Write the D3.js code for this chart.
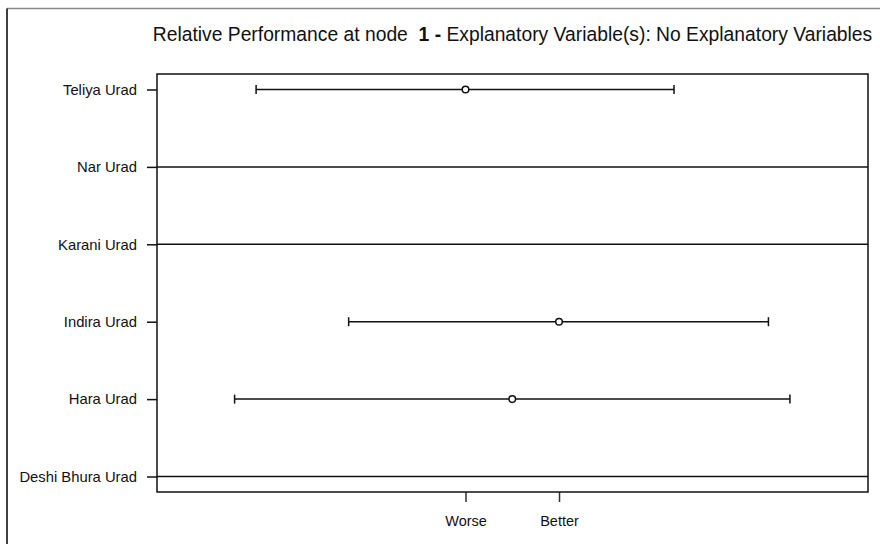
<!DOCTYPE html>
<html>
<head>
<meta charset="utf-8">
<script src="https://cdn.jsdelivr.net/npm/d3@7"></script>
<style>
  body { margin: 0; background: #fff; }
  svg { display: block; font-family: "Liberation Sans", Arial, sans-serif; }
</style>
</head>
<body>
<script>
// varieties, top to bottom
const categories = ["Teliya Urad", "Nar Urad", "Karani Urad", "Indira Urad", "Hara Urad", "Deshi Bhura Urad"];
// estimates and interval ends (null / Infinity = undetermined, line spans whole plot)
const estimate = [0, null, null, 1, 0.5, null];
const lower = [-2.24, -Infinity, -Infinity, -1.25, -2.47, -Infinity];
const upper = [2.23, Infinity, Infinity, 3.24, 3.47, Infinity];
const xTickValues = [0, 1];
const xTickLabels = ["Worse", "Better"];

const width = 880, height = 544;
const margin = {top: 74, right: 12, bottom: 52, left: 157};

const data = categories.map((c, i) => ({name: c, est: estimate[i], lo: lower[i], hi: upper[i]}));

const svg = d3.select("body").append("svg")
    .attr("width", width)
    .attr("height", height);

// outer frame
svg.append("line").attr("x1", 7).attr("x2", width).attr("y1", 8.5).attr("y2", 8.5)
    .attr("stroke", "#888").attr("stroke-width", 1.5);
svg.append("line").attr("x1", 7).attr("x2", 7).attr("y1", 8.5).attr("y2", height)
    .attr("stroke", "#000").attr("stroke-width", 1.5);

const x = d3.scaleLinear()
    .domain([-3.30, 4.305])
    .range([margin.left, width - margin.right])
    .clamp(true);

const y = d3.scalePoint()
    .domain(categories)
    .range([margin.top, height - margin.bottom])
    .padding(0.2);

// y axis
svg.append("g")
    .attr("transform", `translate(${margin.left},0)`)
    .call(d3.axisLeft(y).tickSize(10).tickPadding(10))
    .call(g => g.select(".domain").remove())
    .call(g => g.selectAll("line").attr("stroke", "#111").attr("stroke-width", 1.5))
    .call(g => g.selectAll("text").attr("font-size", 14.8).attr("fill", "#111")
        .attr("font-family", "Liberation Sans, Arial, sans-serif"));

// x axis
svg.append("g")
    .attr("transform", `translate(0,${height - margin.bottom})`)
    .call(d3.axisBottom(x).tickValues(xTickValues).tickFormat((d, i) => xTickLabels[i])
        .tickSize(10).tickPadding(14))
    .call(g => g.select(".domain").remove())
    .call(g => g.selectAll("line").attr("stroke", "#333").attr("stroke-width", 1.5))
    .call(g => g.selectAll("text").attr("font-size", 14.5).attr("fill", "#111")
        .attr("font-family", "Liberation Sans, Arial, sans-serif"));

// intervals
svg.append("g")
    .attr("stroke", "#111")
    .attr("stroke-width", 1.5)
  .selectAll("line")
  .data(data)
  .join("line")
    .attr("x1", d => x(d.lo))
    .attr("x2", d => x(d.hi))
    .attr("y1", d => y(d.name))
    .attr("y2", d => y(d.name));

// caps on finite ends
const caps = data.filter(d => isFinite(d.lo)).flatMap(d => [{v: d.lo, name: d.name}, {v: d.hi, name: d.name}]);
svg.append("g")
    .attr("stroke", "#111")
    .attr("stroke-width", 1.5)
  .selectAll("line")
  .data(caps)
  .join("line")
    .attr("x1", d => x(d.v))
    .attr("x2", d => x(d.v))
    .attr("y1", d => y(d.name) - 4.5)
    .attr("y2", d => y(d.name) + 4.5);

// points
svg.append("g")
    .attr("fill", "white")
    .attr("stroke", "#111")
    .attr("stroke-width", 1.5)
  .selectAll("circle")
  .data(data.filter(d => d.est !== null))
  .join("circle")
    .attr("cx", d => x(d.est))
    .attr("cy", d => y(d.name))
    .attr("r", 3.3);

// plot box
svg.append("rect")
    .attr("x", margin.left)
    .attr("y", margin.top)
    .attr("width", width - margin.right - margin.left)
    .attr("height", height - margin.bottom - margin.top)
    .attr("fill", "none")
    .attr("stroke", "#111")
    .attr("stroke-width", 1.5);

// title, sized so it spans roughly 725px like the original
const title = svg.append("text")
    .attr("x", (margin.left + width - margin.right) / 2)
    .attr("y", 41)
    .attr("text-anchor", "middle")
    .attr("font-size", 20)
    .attr("fill", "#111")
    .style("white-space", "pre");
title.append("tspan").text("Relative Performance at node  ");
title.append("tspan").attr("font-weight", "bold").text("1 -");
title.append("tspan").text(" Explanatory Variable(s): No Explanatory Variables");
const tw = title.node().getComputedTextLength();
title.attr("font-size", Math.min(20, 20 * 720 / tw));
</script>
</body>
</html>
